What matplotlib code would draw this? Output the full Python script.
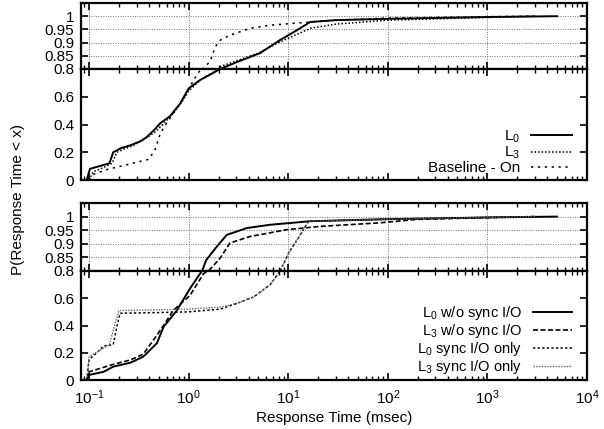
import numpy as np
import matplotlib.pyplot as plt
from matplotlib.ticker import LogLocator, NullFormatter

# panel 1 (top)
l0_x = [0.095, 0.102, 0.12, 0.16, 0.175, 0.21, 0.26, 0.33, 0.38, 0.45, 0.52, 0.65, 0.82, 1.0, 1.3, 1.65, 2.07, 3.0, 5.2, 8.3, 12, 16.6, 30, 100, 1000, 5000]
l0_y = [0.0, 0.08, 0.095, 0.12, 0.2, 0.23, 0.25, 0.28, 0.31, 0.36, 0.41, 0.46, 0.55, 0.66, 0.72, 0.76, 0.8, 0.825, 0.86, 0.91, 0.945, 0.978, 0.985, 0.99, 0.997, 1.0]
l3_x = [0.1, 0.11, 0.14, 0.17, 0.19, 0.22, 0.28, 0.35, 0.45, 0.55, 0.7, 0.85, 1.0, 1.3, 1.7, 2.1, 3, 5, 8, 12, 17, 30, 100, 1000, 3000]
l3_y = [0.0, 0.06, 0.09, 0.12, 0.2, 0.22, 0.25, 0.29, 0.34, 0.4, 0.48, 0.56, 0.64, 0.72, 0.77, 0.81, 0.83, 0.86, 0.9, 0.93, 0.955, 0.97, 0.985, 0.995, 1.0]
base_x = [0.1, 0.11, 0.15, 0.24, 0.4, 0.46, 0.52, 0.6, 0.82, 1.0, 1.12, 1.3, 1.64, 1.85, 2.07, 2.6, 4.15, 6.6, 16.6, 30, 100, 1000, 3000]
base_y = [0.0, 0.04, 0.075, 0.11, 0.15, 0.22, 0.336, 0.41, 0.55, 0.65, 0.72, 0.79, 0.828, 0.884, 0.909, 0.928, 0.954, 0.966, 0.978, 0.985, 0.993, 0.998, 1.0]

# panel 2 (bottom)
l0w_x = [0.095, 0.1, 0.14, 0.175, 0.26, 0.35, 0.48, 0.56, 0.76, 1.03, 1.3, 1.5, 1.92, 2.42, 3.85, 6.6, 16.6, 83, 1000, 5000]
l0w_y = [0.0, 0.037, 0.06, 0.098, 0.127, 0.171, 0.27, 0.39, 0.51, 0.67, 0.78, 0.84, 0.89, 0.933, 0.958, 0.97, 0.983, 0.99, 0.997, 1.0]
l3w_x = [0.095, 0.1, 0.175, 0.26, 0.35, 0.44, 0.56, 0.7, 1.03, 1.41, 2.07, 2.6, 4.15, 9.7, 21, 83, 200, 1000, 3000]
l3w_y = [0.0, 0.06, 0.115, 0.147, 0.19, 0.29, 0.4, 0.51, 0.62, 0.78, 0.847, 0.903, 0.927, 0.952, 0.964, 0.977, 0.99, 0.996, 1.0]
l0s_x = [0.095, 0.1, 0.12, 0.14, 0.175, 0.19, 0.205, 0.5, 1.0, 2.07, 3.0, 4.5, 6.6, 8.3, 10.1, 13.2, 16, 100, 1000, 3000]
l0s_y = [0.0, 0.15, 0.2, 0.25, 0.26, 0.39, 0.49, 0.495, 0.5, 0.52, 0.56, 0.61, 0.7, 0.8, 0.866, 0.933, 0.983, 0.99, 0.997, 1.0]
l3s_x = [0.095, 0.1, 0.11, 0.13, 0.16, 0.18, 0.2, 0.5, 1.0, 2.07, 3.0, 4.5, 6.6, 8.3, 10.1, 13.2, 16, 100, 1000, 3000]
l3s_y = [0.0, 0.17, 0.19, 0.22, 0.257, 0.4, 0.51, 0.515, 0.52, 0.535, 0.56, 0.61, 0.7, 0.8, 0.866, 0.933, 0.983, 0.99, 0.997, 1.0]

plt.rcParams['font.family'] = ['Liberation Sans', 'DejaVu Sans']
plt.rcParams['font.size'] = 11
plt.rcParams['mathtext.default'] = 'regular'

fig = plt.figure(figsize=(6.04, 4.29), dpi=100)
left, width = 0.1341, 0.8377


def style_axes(ax, upper, xlabels):
    ax.set_xscale('log')
    ax.set_xlim(0.083, 1e4)
    ax.xaxis.set_major_locator(LogLocator(base=10, numticks=10))
    ax.xaxis.set_minor_locator(LogLocator(base=10, subs=np.arange(2, 10), numticks=10))
    ax.xaxis.set_minor_formatter(NullFormatter())
    ax.tick_params(which='both', direction='in', top=True, right=True)
    ax.tick_params(which='major', length=5, width=1.2)
    ax.tick_params(which='minor', length=3, width=1)
    for s in ax.spines.values():
        s.set_linewidth(1.6)
    if upper:
        ax.set_ylim(0.8, 1.05)
        ax.set_yticks([0.8, 0.85, 0.9, 0.95, 1])
        ax.set_yticklabels(['0.8', '0.85', '0.9', '0.95', '1'])
        ax.grid(True, which='major', linestyle=(0, (1, 1.5)), color='0.45', linewidth=0.7)
    else:
        ax.set_ylim(0, 0.8)
        ax.set_yticks([0, 0.2, 0.4, 0.6])
        ax.set_yticklabels(['0', '0.2', '0.4', '0.6'])
    if not xlabels:
        ax.set_xticklabels([])
    ax.tick_params(axis='y', pad=5)
    ax.tick_params(axis='x', pad=6)


def make_panel(top_px, split_px, bottom_px, curves, xlabels):
    h = 429.0
    ax_up = fig.add_axes([left, 1 - split_px / h, width, (split_px - top_px) / h])
    ax_lo = fig.add_axes([left, 1 - bottom_px / h, width, (bottom_px - split_px) / h])
    for ax in (ax_up, ax_lo):
        for x, y, lab, kw in curves:
            ax.plot(x, y, label=lab, **kw)
    style_axes(ax_up, True, False)
    style_axes(ax_lo, False, xlabels)
    return ax_lo


curves1 = [
    (l0_x, l0_y, 'L$_0$', dict(color='black', linewidth=1.4)),
    (l3_x, l3_y, 'L$_3$', dict(color='black', linewidth=1.1, linestyle=(0, (1, 1.3)))),
    (base_x, base_y, 'Baseline - On', dict(color='black', linewidth=1.1, linestyle=(0, (1.5, 3)))),
]
curves2 = [
    (l0w_x, l0w_y, 'L$_0$ w/o sync I/O', dict(color='black', linewidth=1.4)),
    (l3w_x, l3w_y, 'L$_3$ w/o sync I/O', dict(color='black', linewidth=1.2, linestyle=(0, (3, 1.5)))),
    (l0s_x, l0s_y, 'L$_0$ sync I/O only', dict(color='black', linewidth=1.1, linestyle=(0, (1.5, 1.5)))),
    (l3s_x, l3s_y, 'L$_3$ sync I/O only', dict(color='0.4', linewidth=1.0, linestyle=(0, (1, 1)))),
]

ax1 = make_panel(3, 69, 180, curves1, False)
ax2 = make_panel(203, 271, 380, curves2, True)

for ax, fs in ((ax1, 11), (ax2, 10.5)):
    leg = ax.legend(loc='lower right', bbox_to_anchor=(0.979, 0.0), frameon=False,
                    markerfirst=False, handlelength=2.7, handletextpad=0.7,
                    labelspacing=0.0, borderaxespad=0.0, borderpad=0.3, fontsize=fs)
    for t in leg.get_texts():
        t.set_ha('right')

fig.text(0.03, 0.534, 'P(Response Time < x)', rotation=90, ha='center', va='center')
fig.text(0.553, 0.026, 'Response Time (msec)', ha='center', va='center')

plt.savefig('out.png', dpi=100)
